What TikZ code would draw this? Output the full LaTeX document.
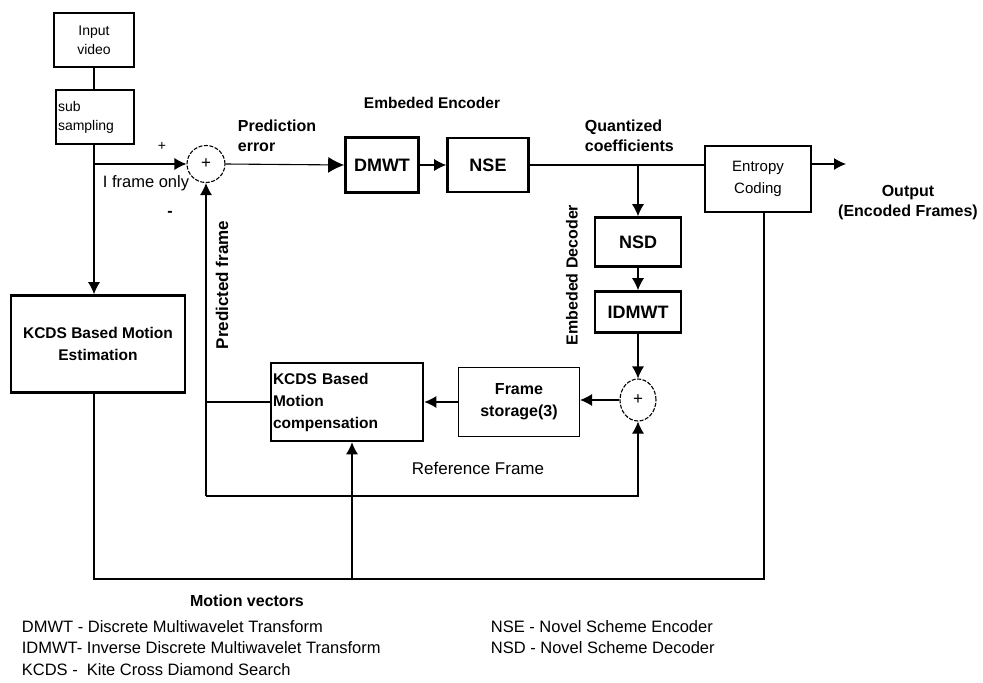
\documentclass[tikz,border=0pt]{standalone}
\usepackage{fontspec}
\setmainfont{Liberation Sans}
\usetikzlibrary{arrows.meta,shapes.geometric}

\begin{document}
\begin{tikzpicture}[x=1pt,y=-1pt,line width=1.1pt,
	>={Latex[length=12pt,width=12pt]},
	thin box/.style={draw,line width=1.1pt,inner sep=2pt},
	thick box/.style={draw,line width=2.6pt,inner sep=2pt},
	sum/.style={draw,ellipse,dash pattern=on 4pt off 1.5pt,inner sep=0pt,font=\fontsize{17}{18}\selectfont},
	plain/.style={font=\fontsize{14}{19}\selectfont},
	bold/.style={font=\fontsize{16}{20}\selectfont\bfseries},
	big bold/.style={font=\fontsize{18}{22}\selectfont\bfseries},
	legend/.style={anchor=west,font=\fontsize{16.5}{20}\selectfont}]
	\useasboundingbox (0,0) rectangle (983,683);

	% blocks
	\node (input) [thin box,plain,minimum width=80,minimum height=54,align=center,at={(94,40)}] {Input\\video};
	\node (subs) [thin box,plain,minimum height=54,text width=74,align=left,at={(95,117)}] {sub\\sampling};
	\node (sum1) [sum,minimum width=38,minimum height=37,at={(206,164)}] {+};
	\node (dmwt) [thick box,big bold,minimum width=73,minimum height=55,at={(382,165)}] {DMWT};
	\node (nse) [thick box,big bold,minimum width=81,minimum height=54,at={(488,165)}] {NSE};
	\node (entropy) [thin box,minimum width=106,minimum height=66,align=center,
		font=\fontsize{15}{22}\selectfont,at={(758,179)}] {Entropy\\Coding};
	\node (nsd) [thick box,big bold,minimum width=86,minimum height=49,at={(638,242)}] {NSD};
	\node (idmwt) [thick box,big bold,minimum width=86,minimum height=41,at={(638,312)}] {IDMWT};
	\node (sum2) [sum,minimum width=36,minimum height=42,at={(638,400)}] {+};
	\node (store) [thin box,minimum width=121,minimum height=69,align=center,
		font=\fontsize{16}{22}\selectfont\bfseries,at={(519,402)}] {Frame\\storage(3)};
	\node (mc) [thick box,minimum height=78,text width=148,align=left,
		font=\fontsize{15.5}{22}\selectfont\bfseries,at={(347,402)}] {KCDS Based\\Motion\\compensation};
	\node (me) [thick box,minimum width=174,minimum height=97,align=center,
		font=\fontsize{15.5}{22}\selectfont\bfseries,at={(98,344)}] {KCDS Based Motion\\Estimation};

	% junctions
	\coordinate (split) at (94,164);
	\coordinate (qc) at (nse.east -| nsd.north);
	\coordinate (refl) at (206,496);
	\coordinate (refr) at (sum2.south |- refl);
	\coordinate (mvl) at (94,579);
	\coordinate (mvr) at (764,579);
	\coordinate (mvj) at (352,579);
	\coordinate (out) at (846,164);

	% connectors
	\draw (input) -- (input |- subs.north);
	\draw[->] (subs.south -| split) -- (split |- me.north);
	\draw[->] (split) -- (sum1.west);
	\draw[->,>={Latex[length=16pt,width=16pt]}] (sum1.east) -- (dmwt.west);
	\draw[->] (dmwt.east) -- (nse.west);
	\draw (nse.east) -- (nse.east -| entropy.west);
	\draw[->] (qc) -- (nsd.north);
	\draw[->] (nsd.south) -- (idmwt.north);
	\draw[->] (idmwt.south) -- (sum2.north);
	\draw[->] (sum2.west) -- (sum2.west -| store.east);
	\draw[->] (store.west) -- (store.west -| mc.east);
	\draw (mc.west) -- (mc.west -| refl);
	\draw[->] (refl) -- (sum1.south);
	\draw[->] (refl) -- (refr) -- (sum2.south);
	\draw (split |- me.south) -- (mvl) -- (mvr) -- (mvr |- entropy.south);
	\draw[->] (mvj) -- (mvj |- mc.south);
	\draw[->] (entropy.east |- out) -- (out);

	% labels
	\node (plus) [plain,at={(162,146)}] {+};
	\node (minus) [bold,at={(170,214)}] {-};
	\node (iframe) [font=\fontsize{16.5}{20}\selectfont,at={(146,183)}] {I frame only};
	\node (prederr) [bold,anchor=west,align=left,at={(234,136)}] {Prediction\\error};
	\node (enc) [font=\fontsize{15.5}{20}\selectfont\bfseries,at={(432,103)}] {Embeded Encoder};
	\node (quant) [bold,anchor=west,align=left,at={(581,136)}] {Quantized\\coefficients};
	\node (output) [bold,align=center,at={(908,203)}] {Output\\(Encoded Frames)};
	\node (dec) [bold,rotate=90,at={(572,275)}] {Embeded Decoder};
	\node (pred) [font=\fontsize{17}{20}\selectfont\bfseries,rotate=90,at={(222,285)}] {Predicted frame};
	\node (ref) [font=\fontsize{17}{20}\selectfont,at={(478,468)}] {Reference Frame};
	\node (mv) [bold,at={(247,601)}] {Motion vectors};

	% legend
	\node [legend,at={(18,627)}] {DMWT - Discrete Multiwavelet Transform};
	\node [legend,at={(18,648)}] {IDMWT- Inverse Discrete Multiwavelet Transform};
	\node [legend,at={(18,670)}] {KCDS -\ \ Kite Cross Diamond Search};
	\node [legend,at={(487,627)}] {NSE - Novel Scheme Encoder};
	\node [legend,at={(487,648)}] {NSD - Novel Scheme Decoder};
\end{tikzpicture}
\end{document}
